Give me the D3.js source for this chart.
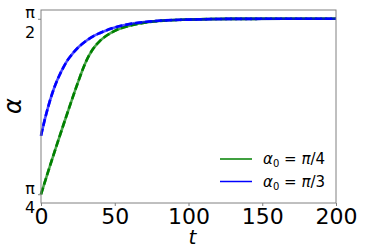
<!DOCTYPE html>
<html>
<head>
<meta charset="utf-8">
<script src="https://cdn.jsdelivr.net/npm/d3@7"></script>
<style>
  body { margin: 0; background: #fff; }
  svg { font-family: "DejaVu Sans", sans-serif; }
</style>
</head>
<body>
<script>
(function(){

    var timeQuarter = [0, 5, 10, 15, 20, 25, 30, 35, 40, 45, 50, 60, 70, 80, 100, 130, 200];
    var alphaQuarter = [0.785, 0.890, 0.992, 1.092, 1.190, 1.285, 1.372, 1.433, 1.472, 1.498, 1.517, 1.540, 1.553, 1.561, 1.567, 1.5704, 1.5708];
    var timeThird = [0, 2.5, 5, 7.5, 10, 12.5, 15, 17.5, 20, 25, 30, 35, 40, 50, 60, 70, 80, 100, 130, 200];
    var alphaThird = [1.047, 1.118, 1.180, 1.234, 1.280, 1.318, 1.351, 1.380, 1.403, 1.441, 1.469, 1.491, 1.507, 1.532, 1.547, 1.556, 1.562, 1.567, 1.5704, 1.5708];
    var seriesDenoms = ["4", "3"];
    var seriesColors = ["#008000", "#0000ff"];
    var xTicks = [0, 50, 100, 150, 200];
    var yTicks = [Math.PI / 4, Math.PI / 2];
    var yTickNum = ["\u03c0", "\u03c0"];
    var yTickDen = ["4", "2"];

    var width = 374, height = 250;
    var left = 41, right = 336, top = 10, bottom = 203;

    var svg = d3.select("body").append("svg")
        .attr("width", width)
        .attr("height", height);

    var pad = (Math.PI / 2 - Math.PI / 4) * 0.05;
    var x = d3.scaleLinear().domain([0, 200]).range([left, right]);
    var y = d3.scaleLinear().domain([Math.PI / 4 - pad, Math.PI / 2 + pad]).range([bottom, top]);

    var series = [[timeQuarter, alphaQuarter], [timeThird, alphaThird]];

    var line = d3.line()
        .x(function(d) { return x(d[0]); })
        .y(function(d) { return y(d[1]); })
        .curve(d3.curveMonotoneX);

    var plot = svg.append("g");
    series.forEach(function(s, i) {
        var pts = s[0].map(function(t, k) { return [t, s[1][k]]; });
        plot.append("path")
            .attr("d", line(pts))
            .attr("fill", "none")
            .attr("stroke", seriesColors[i])
            .attr("stroke-opacity", 0.7)
            .attr("stroke-width", 2.6);
        plot.append("path")
            .attr("d", line(pts))
            .attr("fill", "none")
            .attr("stroke", seriesColors[i])
            .attr("stroke-width", 2.6)
            .attr("stroke-dasharray", "7,3");
    });

    // frame
    svg.append("rect")
        .attr("x", left).attr("y", top)
        .attr("width", right - left).attr("height", bottom - top)
        .attr("fill", "none")
        .attr("stroke", "#808080")
        .attr("stroke-width", 1);

    // x axis
    var xAxis = svg.append("g")
        .attr("transform", "translate(0," + bottom + ")")
        .call(d3.axisBottom(x).tickValues(xTicks).tickSize(3).tickPadding(2));
    xAxis.select(".domain").remove();
    xAxis.selectAll("line").attr("stroke", "#808080");
    xAxis.selectAll("text")
        .attr("font-size", 22)
        .attr("fill", "#000")
        .attr("font-family", "DejaVu Sans");

    // y axis ticks
    var yAxis = svg.append("g")
        .attr("transform", "translate(" + left + ",0)")
        .call(d3.axisLeft(y).tickValues(yTicks).tickSize(3).tickFormat(""));
    yAxis.select(".domain").remove();
    yAxis.selectAll("line").attr("stroke", "#808080");

    yTicks.forEach(function(v, i) {
        var yy = y(v);
        svg.append("text")
            .attr("x", 30).attr("y", yy - 0.5)
            .attr("text-anchor", "middle")
            .attr("font-size", 16)
            .text(yTickNum[i]);
        svg.append("text")
            .attr("x", 30).attr("y", yy + 19)
            .attr("text-anchor", "middle")
            .attr("font-size", 16)
            .text(yTickDen[i]);
    });

    // axis labels
    svg.append("text")
        .attr("x", (left + right) / 2 + 4)
        .attr("y", 244)
        .attr("text-anchor", "middle")
        .attr("font-size", 20)
        .attr("font-style", "italic")
        .text("t");

    svg.append("text")
        .attr("transform", "translate(21,106) rotate(-90)")
        .attr("text-anchor", "middle")
        .attr("font-size", 24)
        .attr("font-style", "italic")
        .text("\u03b1");

    // legend
    var legend = svg.append("g");
    seriesDenoms.forEach(function(den, i) {
        var ly = 159 + i * 22.5;
        legend.append("line")
            .attr("x1", 220).attr("x2", 252)
            .attr("y1", ly).attr("y2", ly)
            .attr("stroke", seriesColors[i])
            .attr("stroke-width", 1.5);
        var t = legend.append("text")
            .attr("x", 263).attr("y", ly + 5)
            .attr("font-size", 15);
        t.append("tspan").attr("font-style", "italic").text("\u03b1");
        t.append("tspan").attr("font-size", 10).attr("dy", 3).text("0");
        t.append("tspan").attr("dy", -3).text(" = ");
        t.append("tspan").attr("font-style", "italic").text("\u03c0");
        t.append("tspan").text("/" + den);
    });

})();
</script>
</body>
</html>
